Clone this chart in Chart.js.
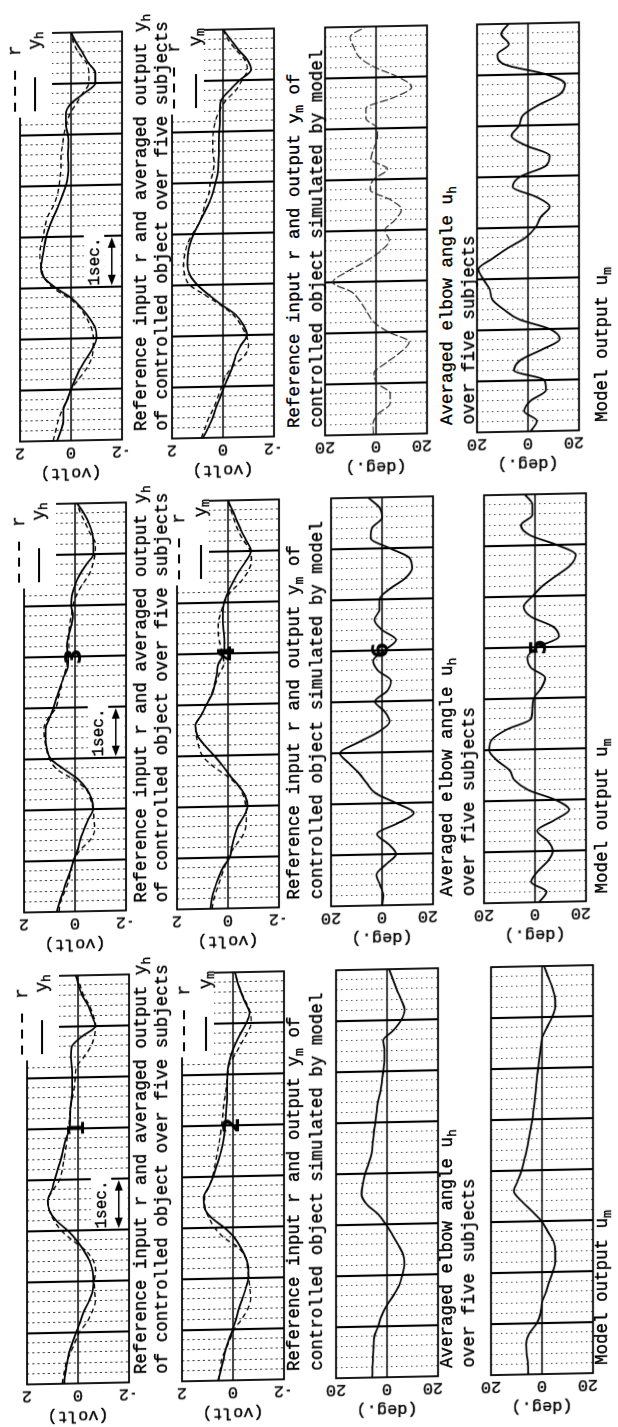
<!DOCTYPE html>
<html><head><meta charset="utf-8">
<title>Reference input, outputs and elbow angle</title>
<script src="https://cdn.jsdelivr.net/npm/chart.js@4.4.1/dist/chart.umd.min.js"></script>
<style>
html,body{margin:0;padding:0;background:#fff;}
body{width:618px;height:1427px;overflow:hidden;position:relative;}
#outer{position:absolute;left:0;top:0;width:618px;height:1427px;transform-origin:0 0;transform:skewY(-1.15deg);}
#land{position:absolute;left:0;top:0;width:1427px;height:618px;transform-origin:0 0;transform:translateY(1427px) rotate(-90deg);}
#land canvas{position:absolute;}
.cap{position:absolute;font-family:"Liberation Mono",monospace;font-size:17.5px;line-height:18px;white-space:nowrap;color:#000;-webkit-text-stroke:0.35px #000;}
.cap sub{font-size:13px;line-height:0;vertical-align:-4px;}
</style></head>
<body><div id="outer"><div id="land"></div></div>
<script>
// ---------- data (time in sec, 0.2 s steps) ----------
const T = [0,0.2,0.4,0.6,0.8,1,1.2,1.4,1.6,1.8,2,2.2,2.4,2.6,2.8,3,3.2,3.4,3.6,3.8,4,4.2,4.4,4.6,4.8,5,5.2,5.4,5.6,5.8,6,6.2,6.4,6.6,6.8,7,7.2,7.4,7.6,7.8,8];
const timeMajor = [0,1,2,3,4,5,6,7,8];
const voltTicks = [2,0,-2];
const degTicks = [20,0,-20];

// group 1 (panels 1,2)
const rL  = [0.62,0.55,0.47,0.3,0.12,-0.05,-0.35,-0.55,-0.68,-0.65,-0.64,-0.69,-0.6,-0.3,0.2,0.65,0.93,1.12,1.2,0.98,0.72,0.62,0.55,0.48,0.43,0.38,0.33,0.3,0.22,0.15,0.11,0.06,-0.23,-0.5,-0.64,-0.69,-0.6,-0.45,-0.23,-0.08,0.08];
const yhL = [0.55,0.5,0.43,0.36,0.22,0.07,-0.08,-0.22,-0.42,-0.57,-0.6,-0.57,-0.45,-0.23,0.05,0.4,0.85,1.12,1.18,1.03,0.92,0.8,0.67,0.58,0.48,0.33,0.31,0.3,0.25,0.23,0.23,0.24,0.28,0.25,-0.15,-0.68,-0.55,-0.4,-0.17,-0.02,0.08];
const rLB = [0.58,0.5,0.45,0.3,0.12,-0.05,-0.35,-0.58,-0.69,-0.66,-0.62,-0.57,-0.5,-0.2,0.35,0.72,0.95,1.1,1.12,0.95,0.8,0.72,0.64,0.57,0.5,0.45,0.4,0.37,0.3,0.25,0.2,0.15,-0.1,-0.32,-0.55,-0.71,-0.68,-0.52,-0.32,-0.18,-0.08];
const ymL = [0.58,0.48,0.38,0.29,0.16,0.01,-0.12,-0.23,-0.37,-0.5,-0.6,-0.6,-0.5,-0.3,-0.05,0.35,0.85,1.12,1.15,0.95,0.78,0.65,0.52,0.42,0.35,0.31,0.28,0.25,0.23,0.23,0.22,0.17,0.06,-0.1,-0.3,-0.52,-0.65,-0.48,-0.32,-0.18,-0.08];
const uhL = [5.8,5.7,5.5,5.3,5.0,3.5,2.2,0.2,-2.5,-4.8,-6.0,-6.8,-6.3,-4.3,-2.0,0.5,3.5,8.0,10.0,9.5,8.6,7.2,6.0,5.6,5.2,4.6,4.1,3.6,2.6,2.0,1.5,1.0,1.0,1.5,-2.5,-5.6,-6.9,-5.5,-3.8,-2.3,-0.8];
const umL = [5.4,5.5,6.0,6.2,5.0,2.0,0.5,0.0,-1.5,-2.8,-4.2,-5.2,-5.2,-4.5,-2.2,0.2,4.0,8.0,11.0,9.5,8.0,7.0,6.0,5.2,4.5,3.8,3.3,2.8,2.4,2.0,1.5,1.0,0.5,-0.1,-2.0,-4.0,-5.2,-5.0,-3.9,-2.3,-0.8];
// group 2 (panels 3,4,6,5)
const rM  = [0.63,0.57,0.4,0.25,0.17,0.05,-0.2,-0.6,-0.77,-0.74,-0.71,-0.6,-0.42,0.1,0.72,1.0,1.12,1.2,1.22,1.05,0.75,0.65,0.55,0.45,0.34,0.28,0.24,0.24,0.22,0.15,0.08,-0.05,-0.28,-0.55,-0.7,-0.78,-0.8,-0.6,-0.42,-0.22,-0.08];
const yhM = [0.72,0.6,0.46,0.33,0.18,0.06,-0.1,-0.2,-0.35,-0.52,-0.71,-0.65,-0.45,-0.1,0.45,0.95,1.1,1.15,1.15,1.0,0.85,0.72,0.58,0.45,0.28,0.27,0.32,0.26,0.15,0.08,0.15,0.12,0.0,-0.18,-0.44,-0.72,-0.72,-0.68,-0.55,-0.35,-0.08];
const rMB = [0.63,0.55,0.42,0.28,0.15,0.0,-0.25,-0.55,-0.7,-0.72,-0.7,-0.6,-0.4,0.05,0.6,1.0,1.15,1.25,1.27,1.05,0.85,0.65,0.5,0.35,0.16,0.22,0.32,0.38,0.38,0.28,0.15,-0.1,-0.5,-0.78,-0.92,-0.88,-0.62,-0.4,-0.25,-0.12,0.0];
const ymM = [0.69,0.63,0.52,0.38,0.2,-0.07,-0.15,-0.25,-0.38,-0.62,-0.77,-0.67,-0.42,-0.08,0.21,0.54,0.9,1.2,1.28,1.05,0.85,0.63,0.52,0.44,0.38,0.16,0.14,0.16,0.2,0.2,0.15,0.0,-0.2,-0.42,-0.7,-0.9,-0.72,-0.52,-0.35,-0.18,0.0];
const uhM = [0,-0.5,0.8,2.2,-1.5,-5.5,-2.5,2.0,-6.0,-12.5,-5.5,2.5,6.0,9.0,13.0,16.5,9.5,1.5,-3.0,-1.0,2.8,-2.0,-3.5,1.5,3.5,-1.0,-5.5,0.0,3.0,1.0,1.0,-3.0,-9.0,-11.8,-10.8,-3.0,4.5,4.0,0.0,1.0,5.5];
const umM = [-1.6,-4.5,1.5,-1.0,-5.0,-7.0,-5.0,-0.8,-7.5,-13.4,-8.0,2.5,8.0,10.0,15.0,18.0,17.0,11.0,1.5,1.0,0.5,-2.5,-4.0,1.6,3.0,-1.0,-9.4,-7.0,1.6,4.5,1.0,-3.0,-8.5,-14.0,-16.0,-8.5,2.0,5.5,1.0,1.0,4.0];
// group 3
const rR  = [0.7,0.6,0.5,0.35,0.15,0.0,-0.3,-0.6,-0.8,-0.87,-0.87,-0.8,-0.6,-0.35,0.1,0.7,1.05,1.15,1.22,1.2,1.1,1.02,0.92,0.7,0.55,0.47,0.42,0.39,0.39,0.33,0.28,0.18,0.05,-0.2,-0.45,-0.7,-0.7,-0.6,-0.3,-0.1,0.0];
const yhR = [0.55,0.4,0.3,0.3,0.15,0.0,-0.16,-0.35,-0.6,-0.85,-1.0,-0.95,-0.72,-0.4,0.0,0.6,1.05,1.18,1.12,1.05,0.98,0.85,0.68,0.5,0.35,0.2,0.12,0.1,0.12,0.1,0.12,0.2,0.2,0.02,-0.5,-0.95,-0.95,-0.68,-0.45,-0.2,0.0];
const rRB = [0.85,0.7,0.55,0.35,0.2,0.05,-0.1,-0.4,-0.85,-1.0,-0.9,-0.7,-0.4,0.1,0.7,1.3,1.5,1.55,1.5,1.4,1.2,0.95,0.8,0.7,0.55,0.5,0.4,0.35,0.4,0.4,0.38,0.3,0.15,-0.1,-0.5,-0.75,-0.95,-0.85,-0.5,-0.2,0.0];
const ymR = [0.79,0.58,0.4,0.27,0.1,-0.05,-0.22,-0.38,-0.5,-0.7,-0.94,-0.8,-0.5,0.05,0.55,1.0,1.3,1.4,1.38,1.3,1.15,0.95,0.75,0.55,0.4,0.3,0.2,0.18,0.16,0.16,0.15,0.12,0.12,0.08,-0.25,-0.65,-1.1,-0.95,-0.6,-0.3,0.0];
const uhR = [1.0,1.2,-0.8,-5.5,-5.5,-0.5,0.8,-4.0,-9.5,-13.0,-5.0,0.8,3.5,6.0,9.5,17.0,11.5,4.0,-2.0,-5.2,-3.5,-7.5,-10.0,-5.5,2.3,1.0,-4.5,2.0,1.0,-0.5,-0.5,4.0,4.0,-7.0,-14.0,-8.7,0.5,6.5,8.7,10.2,4.0];
const umR = [-1.0,-3.5,1.5,-1.0,-7.0,-6.5,5.5,3.0,-5.5,-12.5,-8.5,3.5,9.5,14.0,15.0,17.5,19.5,14.0,8.0,1.0,-3.0,-5.0,-8.5,-3.0,6.0,3.0,-7.0,-8.5,0.5,6.5,3.5,2.0,-4.3,-12.5,-14.5,-6.7,9.0,12.0,7.5,10.5,7.6];

const CAPS = [
  ['Reference input r and averaged output y<sub>h</sub>','of controlled object over five subjects'],
  ['Reference input r and output y<sub>m</sub> of','controlled object simulated by model'],
  ['Averaged elbow angle u<sub>h</sub>','over five subjects'],
  ['Model output u<sub>m</sub>']
];
const LEG_SUB = ['h','m',null,null];
const PANEL_NUMS = [['1','2',null,null],['3','4','6','5'],[null,null,null,null]];

// ---------- layout (landscape frame, rotated into the page) ----------
const GROUPS = [
  {x:42,    rows:[27,181.7,336.3,491]},
  {x:513.5, rows:[23.5,177,330.5,484]},
  {x:985,   rows:[20,172.3,324.7,477]}
];
const SERIES = [
  [[rL,yhL],[rLB,ymL],[uhL],[umL]],
  [[rM,yhM],[rMB,ymM],[uhM],[umM]],
  [[rR,yhR],[rRB,ymR],[uhR],[umR]]
];
const CAPY = [[141,162],[294,317],[447,469],[602]];
const LEGY = [[-5,15],[2,24]];
const PW=408, PH=102, PADL=46, PADR=10, PADT=14, PADB=6;
const MONO='"Liberation Mono", monospace';

function seg(ctx,x1,y1,x2,y2){ctx.beginPath();ctx.moveTo(x1,y1);ctx.lineTo(x2,y2);ctx.stroke();}
function boldText(ctx,s,x,y){ctx.fillText(s,x,y);ctx.lineWidth=0.35;ctx.strokeText(s,x,y);}

const decor = {
  id:'decor',
  beforeDatasetsDraw(chart, args, o){
    const {ctx, chartArea:a, scales:{x,y}} = chart;
    ctx.save();
    // minor time grid 0.2 s (dotted)
    ctx.strokeStyle='#3a3a3a'; ctx.lineWidth=1;
    ctx.setLineDash(o.kind==='volt'?[2.2,3]:[1.4,3.6]);
    T.forEach(t=>{ if (timeMajor.includes(t)) return; const px=Math.round(x.getPixelForValue(t))+0.5; seg(ctx,px,a.top,px,a.bottom); });
    // 1 s lines
    ctx.setLineDash([]); ctx.strokeStyle='#000'; ctx.lineWidth=2.1;
    timeMajor.forEach(t=>{ if (t===x.min||t===x.max) return; const px=x.getPixelForValue(t); seg(ctx,px,a.top,px,a.bottom); });
    // zero line
    ctx.lineWidth=1.4; const p0=y.getPixelForValue(0); seg(ctx,a.left,p0,a.right,p0);
    // frame
    ctx.lineWidth=1.8; ctx.strokeRect(a.left,a.top,a.right-a.left,a.bottom-a.top);
    ctx.strokeStyle='#000';
    // legend
    if (o.leg){
      ctx.fillStyle='#fff'; ctx.fillRect(a.right-84,a.top-6,94,38);
      const l1=a.top+o.ly1, l2=a.top+o.ly2;
      ctx.strokeStyle='#000'; ctx.lineWidth=1.8;
      ctx.setLineDash([9,7]); seg(ctx,a.right-78,l1,a.right-34,l1);
      ctx.setLineDash([]); seg(ctx,a.right-78,l2,a.right-44,l2);
      ctx.fillStyle='#000'; ctx.strokeStyle='#000'; ctx.textAlign='center'; ctx.textBaseline='middle';
      ctx.font='17.5px '+MONO; boldText(ctx,'r',a.right-17,l1); boldText(ctx,'y',a.right-11,l2);
      ctx.font='13px '+MONO; boldText(ctx,o.leg,a.right-2,l2+5);
    }
    // 1 sec marker
    if (o.oneSec){
      const x3=x.getPixelForValue(3), x4=x.getPixelForValue(4);
      const yA=y.getPixelForValue(-0.5), yB=y.getPixelForValue(-1.3), yC=y.getPixelForValue(-2);
      ctx.fillStyle='#fff';
      ctx.fillRect(x3+1.5,yA,x4-x3+0.8,yB-yA);
      ctx.fillRect(x3+1.5,yB,x4-x3-3,yC-yB-1.5);
      const ya=y.getPixelForValue(-1.6);
      ctx.strokeStyle='#000'; ctx.fillStyle='#000'; ctx.lineWidth=1.6;
      seg(ctx,x3+8,ya,x4-8,ya);
      ctx.beginPath(); ctx.moveTo(x3+1.5,ya); ctx.lineTo(x3+12,ya-4); ctx.lineTo(x3+12,ya+4); ctx.closePath(); ctx.fill();
      ctx.beginPath(); ctx.moveTo(x4-1.5,ya); ctx.lineTo(x4-12,ya-4); ctx.lineTo(x4-12,ya+4); ctx.closePath(); ctx.fill();
      ctx.font='16px '+MONO; ctx.textAlign='center'; ctx.textBaseline='middle';
      boldText(ctx,'1sec.',(x3+x4)/2,y.getPixelForValue(-0.92));
    }
    // value ticks and unit (rotated like the scan)
    const ticks = o.kind==='volt'?voltTicks:degTicks;
    ctx.fillStyle='#000'; ctx.strokeStyle='#000'; ctx.textAlign='center'; ctx.textBaseline='middle';
    ctx.font='17px '+MONO;
    ticks.forEach(v=>{ ctx.save(); ctx.translate(a.left-12,y.getPixelForValue(v)); ctx.rotate(-Math.PI/2); boldText(ctx,String(v),0,0); ctx.restore(); });
    ctx.save(); ctx.translate(a.left-33,y.getPixelForValue(0)); ctx.rotate(-Math.PI/2);
    boldText(ctx,o.kind==='volt'?'(volt)':'(deg.)',0,0); ctx.restore();
    ctx.restore();
  },
  afterDatasetsDraw(chart, args, o){
    if (!o.num) return;
    const {ctx, scales:{x,y}} = chart;
    ctx.save(); ctx.fillStyle='#000'; ctx.font='bold 23px "DejaVu Sans", sans-serif';
    ctx.textAlign='center'; ctx.textBaseline='middle';
    ctx.fillText(o.num, x.getPixelForValue(5), y.getPixelForValue(o.numV));
    ctx.restore();
  }
};

const land = document.getElementById('land');
GROUPS.forEach((G,g)=>{
  G.rows.forEach((rowY,i)=>{
    const kind = i<2?'volt':'deg';
    const lim = kind==='volt'?2:20;
    const cw=PW+PADL+PADR, ch=PH+PADT+PADB;
    const cv=document.createElement('canvas');
    cv.width=cw; cv.height=ch;
    cv.style.width=cw+'px'; cv.style.height=ch+'px';
    cv.style.left=(G.x-PADL)+'px'; cv.style.top=(rowY-PADT)+'px';
    land.appendChild(cv);
    const ser = SERIES[g][i];
    const ds = ser.map((d,k)=>{
      const dashed = (i<2 && k===0);
      const faint = (g===2 && i===2);
      return {
        data: T.map((t,j)=>({x:t,y:d[j]})),
        borderColor: faint?'#222':'#000',
        borderWidth: dashed?1.4:(faint?1.2:1.8),
        borderDash: dashed?[5,3.5]:(faint?[8,2.5]:[]),
        pointRadius:0, fill:false, cubicInterpolationMode:'monotone'
      };
    });
    const leg = LEG_SUB[i];
    new Chart(cv,{
      type:'line',
      data:{datasets:ds},
      options:{
        responsive:false, animation:false, devicePixelRatio:1,
        layout:{padding:{left:PADL,right:PADR,top:PADT,bottom:PADB}},
        scales:{
          x:{type:'linear',min:0,max:8,display:false},
          y:{type:'linear',min:-lim,max:lim,display:false}
        },
        plugins:{
          legend:{display:false}, tooltip:{enabled:false},
          decor:{kind:kind, leg:leg, ly1: leg?LEGY[i][0]:0, ly2: leg?LEGY[i][1]:0,
                 oneSec: i===0, num: PANEL_NUMS[g][i], numV: (g===1&&i===3)?-2:0}
        }
      },
      plugins:[decor]
    });
  });
  // captions
  CAPS.forEach((lines,i)=>{
    lines.forEach((txt,k)=>{
      const d=document.createElement('div');
      d.className='cap'; d.innerHTML=txt;
      d.style.left=(G.x+8)+'px'; d.style.top=(CAPY[i][k]-9)+'px';
      land.appendChild(d);
    });
  });
});
</script></body></html>
